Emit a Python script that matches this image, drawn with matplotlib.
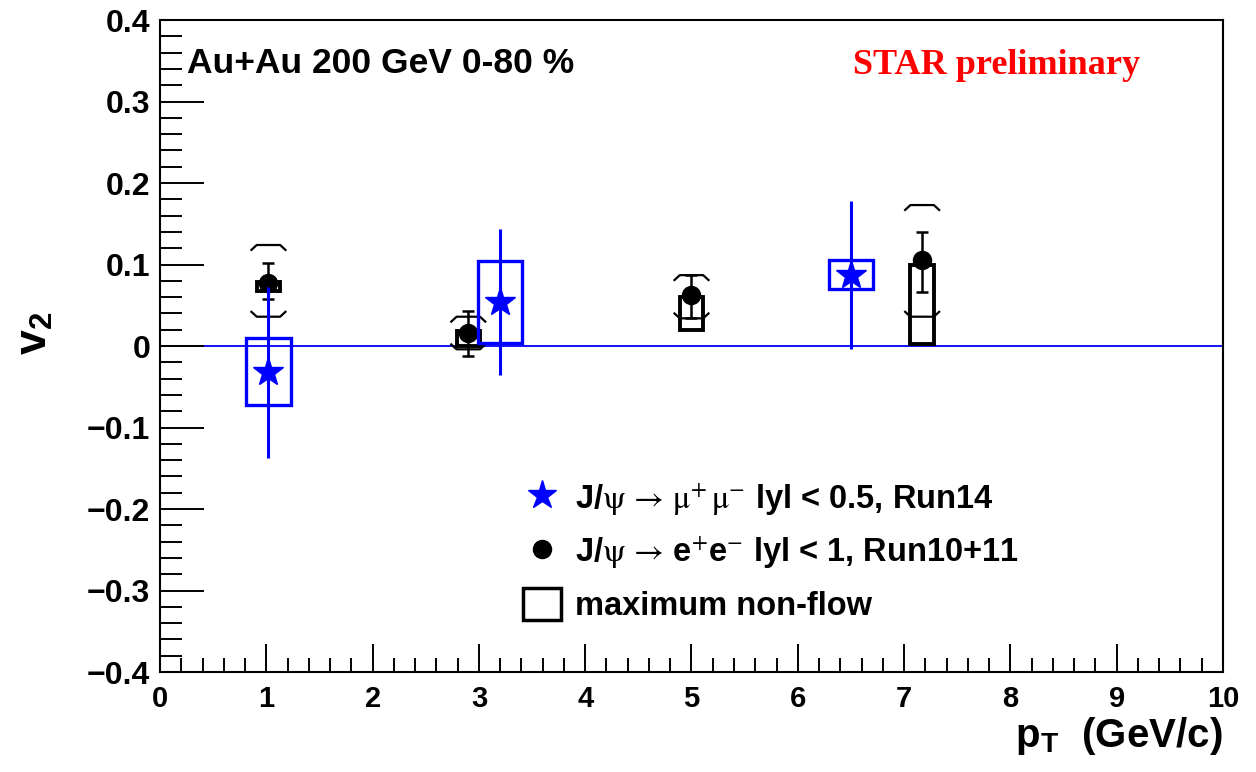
"""J/psi v2 vs pT in Au+Au 200 GeV (STAR preliminary) redrawn with matplotlib."""
import matplotlib
matplotlib.use("Agg")
import matplotlib.pyplot as plt
import numpy as np
from matplotlib.lines import Line2D
from matplotlib.patches import Patch

plt.rcParams["font.family"] = ["Liberation Sans", "DejaVu Sans"]
plt.rcParams["mathtext.fontset"] = "stix"

# J/psi -> mu+ mu-, |y| < 0.5, Run14
mumu_pt = np.array([1.02, 3.20, 6.50])
mumu_v2 = np.array([-0.032, 0.054, 0.087])
mumu_stat = np.array([0.105, 0.090, 0.091])
mumu_sys_lo = np.array([-0.072, 0.004, 0.070])
mumu_sys_hi = np.array([0.010, 0.104, 0.105])

# J/psi -> e+ e-, |y| < 1, Run10+11
ee_pt = np.array([1.02, 2.90, 5.00, 7.17])
ee_v2 = np.array([0.077, 0.016, 0.063, 0.105])
ee_stat_lo = np.array([0.019, 0.028, 0.029, 0.039])
ee_stat_hi = np.array([0.025, 0.027, 0.024, 0.035])
ee_sys_lo = np.array([0.036, -0.004, 0.034, 0.036])
ee_sys_hi = np.array([0.124, 0.036, 0.087, 0.173])
nonflow_lo = np.array([0.068, 0.000, 0.020, 0.003])
nonflow_hi = np.array([0.078, 0.018, 0.060, 0.100])

BLUE = "#0000ff"

fig = plt.figure(figsize=(12.56, 7.72), dpi=100)
ax = fig.add_axes([0.1274, 0.1295, 0.8463, 0.8445])

ax.axhline(0, color=BLUE, lw=1.3, zorder=1)

# maximum non-flow boxes
ax.bar(ee_pt, nonflow_hi - nonflow_lo, bottom=nonflow_lo, width=0.22,
       fill=False, edgecolor="black", lw=2.8, zorder=2)

# systematic brackets for e+e-
bw, bd, be = 0.16, 0.006, 0.05
for x, lo, hi in zip(ee_pt, ee_sys_lo, ee_sys_hi):
    ax.plot([x - bw, x - bw + be, x + bw - be, x + bw],
            [hi - bd, hi, hi, hi - bd], color="black", lw=1.6, zorder=3)
    ax.plot([x - bw, x - bw + be, x + bw - be, x + bw],
            [lo + bd, lo, lo, lo + bd], color="black", lw=1.6, zorder=3)

ax.errorbar(ee_pt, ee_v2, yerr=[ee_stat_lo, ee_stat_hi], fmt="o", color="black",
            ms=13, lw=1.8, capsize=4.5, capthick=1.8, zorder=4)

# mu+mu- systematic boxes, stat errors and points
ax.bar(mumu_pt, mumu_sys_hi - mumu_sys_lo, bottom=mumu_sys_lo, width=0.42,
       fill=False, edgecolor=BLUE, lw=2.4, zorder=5)
ax.errorbar(mumu_pt, mumu_v2, yerr=mumu_stat, fmt="*", color=BLUE,
            ms=22, lw=2.2, capsize=0, zorder=6)

ax.set_xlim(0, 10)
ax.set_ylim(-0.4, 0.4)
ax.set_xticks(np.arange(0, 11, 1))
ax.set_xticks(np.arange(0, 10.01, 0.2), minor=True)
ax.set_yticks(np.arange(-0.4, 0.41, 0.1))
ax.set_yticks(np.arange(-0.4, 0.401, 0.02), minor=True)
ax.set_xticklabels([str(i) for i in range(11)])
ax.set_yticklabels(["\u22120.4", "\u22120.3", "\u22120.2", "\u22120.1", "0",
                    "0.1", "0.2", "0.3", "0.4"])
ax.tick_params(axis="both", which="both", direction="in", top=False, right=False,
               width=1.4)
ax.tick_params(axis="x", which="major", length=20, pad=9, labelsize=21)
ax.tick_params(axis="x", which="minor", length=10)
ax.tick_params(axis="y", which="major", length=32, pad=7, labelsize=23)
ax.tick_params(axis="y", which="minor", length=16)
for lab in ax.get_xticklabels() + ax.get_yticklabels():
    lab.set_fontweight("bold")
for sp in ax.spines.values():
    sp.set_linewidth(1.5)

ax.set_xlabel(r"p$_{\mathregular{T}}$  (GeV/c)", fontsize=29, fontweight="bold",
              loc="right", labelpad=2)
ax.set_ylabel(r"v$_\mathregular{2}$", fontsize=32, fontweight="bold")
ax.yaxis.set_label_coords(-0.099, 0.52)

ax.text(0.025, 0.934, "Au+Au 200 GeV 0-80 %", transform=ax.transAxes,
        fontsize=25.5, fontweight="bold", va="center")
ax.text(0.652, 0.930, "STAR preliminary", transform=ax.transAxes, color="red",
        fontsize=26, fontweight="bold", family=["Liberation Serif"],
        va="center", ha="left")

handles = [
    Line2D([], [], marker="*", color=BLUE, ls="none", ms=21),
    Line2D([], [], marker="o", color="black", ls="none", ms=13),
    Patch(facecolor="none", edgecolor="black", lw=2.5),
]
labels = [
    r"J/$\mathrm{\psi\,\rightarrow\,\mu^{+}\,\mu^{-}}$ lyl < 0.5, Run14",
    r"J/$\mathrm{\psi\,\rightarrow\,}$e$^{+}$e$^{-}$ lyl < 1, Run10+11",
    "maximum non-flow",
]
leg = ax.legend(handles, labels, loc="upper left", bbox_to_anchor=(0.32, 0.327),
                frameon=False, prop={"size": 23.5, "weight": "bold"},
                labelspacing=0.52, handletextpad=0.45, handlelength=1.15,
                handleheight=1.1, borderpad=0.2)

fig.savefig("out.png", dpi=100)
